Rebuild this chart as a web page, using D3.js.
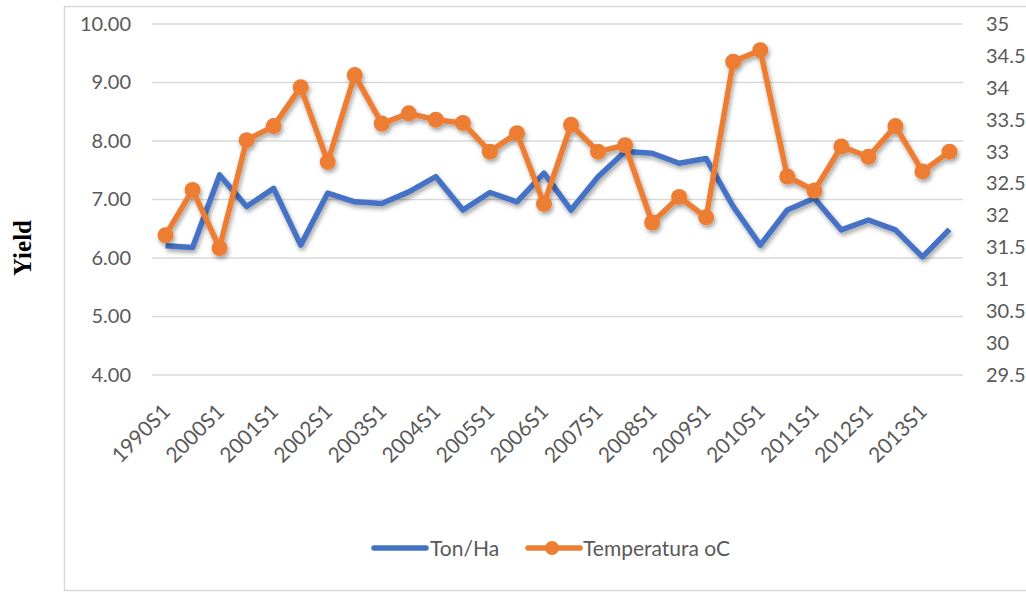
<!DOCTYPE html>
<html>
<head>
<meta charset="utf-8">
<script src="https://cdn.jsdelivr.net/npm/d3@7"></script>
<style>
  body { margin: 0; background: #fff; }
  text { font-family: Lato, "Open Sans", sans-serif; fill: #595959; }
</style>
</head>
<body>
<div id="container"></div>
<script>
// x labels: only every other period is labelled
const periods = ["1990S1","1990S2","2000S1","2000S2","2001S1","2001S2","2002S1","2002S2",
  "2003S1","2003S2","2004S1","2004S2","2005S1","2005S2","2006S1","2006S2","2007S1","2007S2",
  "2008S1","2008S2","2009S1","2009S2","2010S1","2010S2","2011S1","2011S2","2012S1","2012S2",
  "2013S1","2013S2"];
const tonHa = [6.21, 6.18, 7.42, 6.88, 7.19, 6.22, 7.11, 6.96, 6.93, 7.13, 7.39, 6.82, 7.12, 6.96,
  7.45, 6.82, 7.39, 7.82, 7.79, 7.62, 7.70, 6.88, 6.22, 6.82, 7.02, 6.48, 6.65, 6.48, 6.02, 6.49];
const temperatura = [31.69, 32.40, 31.49, 33.18, 33.40, 34.01, 32.84, 34.20, 33.44, 33.60, 33.50,
  33.45, 33.00, 33.29, 32.18, 33.42, 33.00, 33.10, 31.89, 32.29, 31.97, 34.41, 34.59, 32.61,
  32.39, 33.08, 32.92, 33.40, 32.69, 33.00];
const leftTicks = [4, 5, 6, 7, 8, 9, 10];
const rightTicks = [29.5, 30, 30.5, 31, 31.5, 32, 32.5, 33, 33.5, 34, 34.5, 35];

const w = 1026, h = 592;
const plotL = 152, plotR = 963, plotT = 24, plotB = 375;
const blue = "#4472C4", orange = "#ED7D31";

const svg = d3.select("#container").append("svg").attr("width", w).attr("height", h);

// shadow like the office chart
const defs = svg.append("defs");
defs.append("filter").attr("id", "shadow")
  .attr("x", "-10%").attr("y", "-10%").attr("width", "120%").attr("height", "130%")
  .append("feDropShadow")
  .attr("dx", 1.5).attr("dy", 3).attr("stdDeviation", 2)
  .attr("flood-color", "#000").attr("flood-opacity", 0.35);

// frame
svg.append("rect").attr("x", 64.5).attr("y", 6.5).attr("width", 1000).attr("height", 584)
  .attr("fill", "none").attr("stroke", "#d9d9d9").attr("stroke-width", 1.5);

//Scales
const xScale = d3.scaleBand().domain(periods).range([plotL, plotR]);
const yLeft = d3.scaleLinear().domain([4, 10]).range([plotB, plotT]);
const yRight = d3.scaleLinear().domain([29.5, 35]).range([plotB, plotT]);
const cx = (d, i) => xScale(periods[i]) + xScale.bandwidth() / 2;

// gridlines
svg.append("g").selectAll("line").data(leftTicks).enter().append("line")
  .attr("x1", plotL).attr("x2", plotR)
  .attr("y1", d => yLeft(d)).attr("y2", d => yLeft(d))
  .attr("stroke", "#d9d9d9").attr("stroke-width", 1.5);

// left axis
const yAxisL = d3.axisLeft(yLeft).tickValues(leftTicks).tickFormat(d3.format(".2f")).tickSize(0).tickPadding(21);
svg.append("g").attr("transform", "translate(" + plotL + ",0)").call(yAxisL)
  .call(g => g.select(".domain").remove())
  .selectAll("text").style("font-size", "20px").attr("fill", "#595959");

// right axis
const yAxisR = d3.axisRight(yRight).tickValues(rightTicks).tickFormat(d => String(d)).tickSize(0).tickPadding(23);
svg.append("g").attr("transform", "translate(" + plotR + ",0)").call(yAxisR)
  .call(g => g.select(".domain").remove())
  .selectAll("text").style("font-size", "20px").attr("fill", "#595959");

// x labels
svg.append("g").selectAll("text").data(periods.filter((d, i) => i % 2 === 0)).enter().append("text")
  .attr("transform", d => "translate(" + (xScale(d) + xScale.bandwidth() / 2 + 6) + "," + 413 + ") rotate(-45)")
  .attr("text-anchor", "end")
  .style("font-size", "21px")
  .text(d => d);

// lines
const lineL = d3.line().x(cx).y(d => yLeft(d));
const lineR = d3.line().x(cx).y(d => yRight(d));

svg.append("path").datum(tonHa).attr("d", lineL)
  .attr("fill", "none").attr("stroke", blue).attr("stroke-width", 5.5)
  .attr("stroke-linejoin", "round").attr("filter", "url(#shadow)");

const tg = svg.append("g").attr("filter", "url(#shadow)");
tg.append("path").datum(temperatura).attr("d", lineR)
  .attr("fill", "none").attr("stroke", orange).attr("stroke-width", 5.5)
  .attr("stroke-linejoin", "round");
tg.selectAll("circle").data(temperatura).enter().append("circle")
  .attr("cx", cx).attr("cy", d => yRight(d)).attr("r", 8)
  .attr("fill", orange);

// legend
const lg = svg.append("g");
lg.append("line").attr("x1", 374).attr("x2", 426).attr("y1", 548).attr("y2", 548)
  .attr("stroke", blue).attr("stroke-width", 5.5).attr("stroke-linecap", "round");
lg.append("text").attr("x", 430).attr("y", 556).style("font-size", "21px").text("Ton/Ha");
lg.append("line").attr("x1", 528).attr("x2", 580).attr("y1", 548).attr("y2", 548)
  .attr("stroke", orange).attr("stroke-width", 5.5).attr("stroke-linecap", "round");
lg.append("circle").attr("cx", 552).attr("cy", 548).attr("r", 7).attr("fill", orange);
lg.append("text").attr("x", 583).attr("y", 556).style("font-size", "21px").text("Temperatura oC");

// y title
svg.append("text")
  .attr("transform", "translate(31,248) rotate(-90)")
  .attr("text-anchor", "middle")
  .style("font-family", "'Liberation Serif', 'DejaVu Serif', serif")
  .style("font-weight", "bold").style("font-size", "25px")
  .style("fill", "#000")
  .text("Yield");
</script>
</body>
</html>
